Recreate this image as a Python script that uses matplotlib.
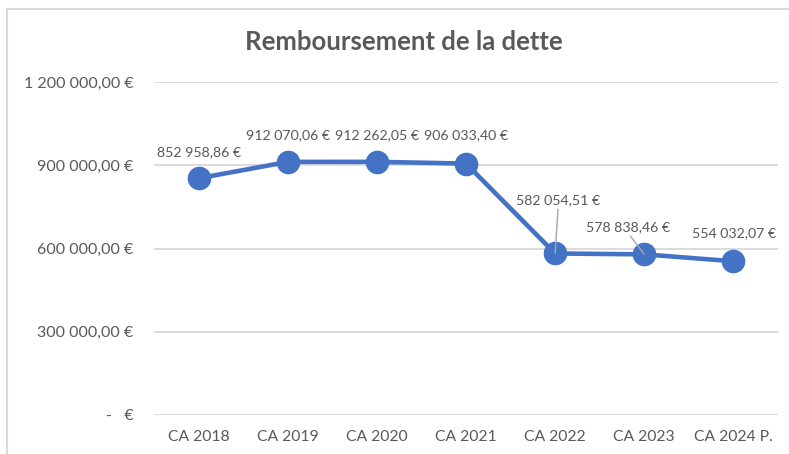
import matplotlib.pyplot as plt
from matplotlib.patches import Rectangle

categories = ["CA 2018", "CA 2019", "CA 2020", "CA 2021", "CA 2022", "CA 2023", "CA 2024 P."]
values = [852958.86, 912070.06, 912262.05, 906033.40, 582054.51, 578838.46, 554032.07]
labels = ["852 958,86 €", "912 070,06 €", "912 262,05 €", "906 033,40 €",
          "582 054,51 €", "578 838,46 €", "554 032,07 €"]
yticks = [0, 300000, 600000, 900000, 1200000]
ytick_labels = ["-   €", "300 000,00 €", "600 000,00 €", "900 000,00 €", "1 200 000,00 €"]

# label offsets in pixels (dx, dy) and whether a leader line is drawn
offsets = [(0, 26), (0, 27), (0, 27), (0, 28), (3, 53), (-16, 27), (1, 28)]
leaders = [False, False, False, False, True, True, False]

plt.rcParams["font.family"] = ["Lato", "DejaVu Sans"]
grey = "#595959"
blue = "#4472C4"

fig = plt.figure(figsize=(7.89, 4.54), dpi=100)
ax = fig.add_axes([154 / 789, 1 - 415 / 454, (778 - 154) / 789, (415 - 82) / 454])

x = list(range(len(categories)))
ax.plot(x, values, color=blue, lw=3.3, marker="o", ms=16, zorder=3)

for i, (v, lab) in enumerate(zip(values, labels)):
    dx, dy = offsets[i]
    kw = {}
    if leaders[i]:
        kw["arrowprops"] = dict(arrowstyle="-", color="#a6a6a6", lw=1,
                                shrinkA=0, shrinkB=0, relpos=(0.5, 0))
    ax.annotate(lab, (i, v), xytext=(dx, dy), textcoords="offset pixels",
                ha="center", va="center", fontsize=10.2, color=grey, zorder=4, **kw)

ax.set_xlim(-0.5, len(categories) - 0.5)
ax.set_ylim(0, 1200000)
ax.set_xticks(x)
ax.set_xticklabels(categories)
ax.set_yticks(yticks)
ax.set_yticklabels(ytick_labels)
ax.tick_params(axis="both", length=0, labelcolor=grey)
ax.tick_params(axis="y", pad=15, labelsize=11.5)
ax.tick_params(axis="x", pad=11, labelsize=11.3)
ax.grid(axis="y", color="#d9d9d9", lw=1.3)
ax.set_axisbelow(True)
for s in ax.spines.values():
    s.set_visible(False)

fig.text(404 / 789, 1 - 42 / 454, "Remboursement de la dette", ha="center", va="center",
         fontsize=18.5, fontweight="bold", color=grey)

fig.patches.append(Rectangle((7 / 789, -0.1), 1.0, (454 - 9) / 454 + 0.1,
                             transform=fig.transFigure, fill=False,
                             edgecolor="#d9d9d9", lw=1.5))

fig.savefig("out.png", dpi=100)
